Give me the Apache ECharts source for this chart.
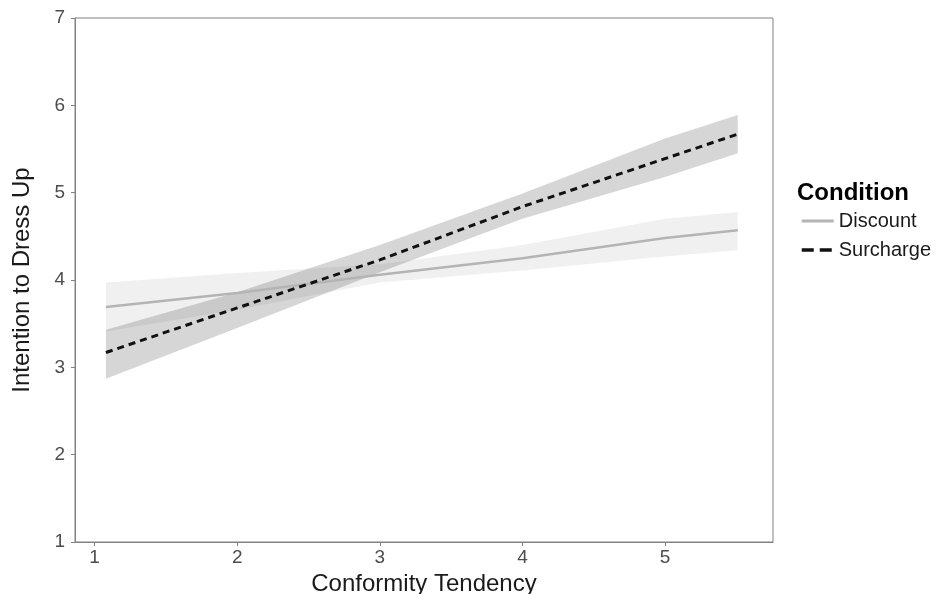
<!DOCTYPE html>
<html><head><meta charset="utf-8">
<script src="https://cdn.jsdelivr.net/npm/echarts@6/dist/echarts.min.js"></script>
<style>html,body{margin:0;padding:0;background:#fff}#c{width:936px;height:594px}</style>
</head><body><div id="c"></div>
<script>
var xs = [1.08, 2, 3, 4, 5, 5.51];
var discountFit = [3.69, 3.85, 4.06, 4.25, 4.48, 4.57];
var discountLow = [3.41, 3.66, 3.97, 4.11, 4.27, 4.34];
var discountHigh = [3.97, 4.08, 4.18, 4.40, 4.70, 4.78];
var surchargeFit = [3.17, 3.68, 4.23, 4.84, 5.39, 5.67];
var surchargeLow = [2.87, 3.45, 4.09, 4.70, 5.18, 5.45];
var surchargeHigh = [3.43, 3.86, 4.40, 4.99, 5.62, 5.89];
var xTicks = [1, 2, 3, 4, 5];

function pairs(a){ return xs.map(function(x,i){ return [x, a[i]]; }); }
function band(low, high, color){
  return {
    type: 'custom', silent: true, z: 1,
    data: [[0]],
    renderItem: function(params, api){
      var pts = [];
      for (var i=0;i<xs.length;i++) pts.push(api.coord([xs[i], high[i]]));
      for (var j=xs.length-1;j>=0;j--) pts.push(api.coord([xs[j], low[j]]));
      return { type: 'polygon', shape: { points: pts }, style: { fill: color } };
    }
  };
}
var font = 'Liberation Sans, Arial, sans-serif';
var chart = echarts.init(document.getElementById('c'));
chart.setOption({
  animation: false,
  grid: { left: 75, right: 163, top: 18, bottom: 52, containLabel: false, outerBoundsMode: 'none',
          show: true, borderColor: '#828282', borderWidth: 1 },
  xAxis: {
    type: 'value', min: 0.863, max: 5.757,
    name: 'Conformity Tendency', nameLocation: 'middle', nameGap: 22,
    nameTextStyle: { fontFamily: font, fontSize: 24, color: '#1a1a1a' },
    axisLine: { show: true, lineStyle: { color: '#828282' } },
    axisTick: { show: true, length: 4, lineStyle: { color: '#828282' }, customValues: xTicks },
    axisLabel: { fontFamily: font, fontSize: 19, color: '#4d4d4d', margin: 6, customValues: xTicks },
    splitLine: { show: false }
  },
  yAxis: {
    type: 'value', min: 1, max: 7, interval: 1,
    name: 'Intention to Dress Up', nameLocation: 'middle', nameGap: 41,
    nameTextStyle: { fontFamily: font, fontSize: 24, color: '#1a1a1a' },
    axisLine: { show: true, lineStyle: { color: '#828282' } },
    axisTick: { show: true, length: 4, lineStyle: { color: '#828282' } },
    axisLabel: { fontFamily: font, fontSize: 19, color: '#4d4d4d', margin: 10 },
    splitLine: { show: false }
  },
  legend: {
    orient: 'vertical', left: 795, top: 206, itemGap: 9, itemWidth: 32, itemHeight: 14,
    textStyle: { fontFamily: font, fontSize: 20, color: '#1a1a1a' },
    itemStyle: { opacity: 0 },
    data: [
      { name: 'Discount', lineStyle: { width: 3, color: '#b4b4b4' } },
      { name: 'Surcharge', lineStyle: { width: 3.5, color: '#111', type: [12, 6] } }
    ]
  },
  graphic: [{ type: 'text', left: 797, top: 181, style: { text: 'Condition', font: 'bold 24px ' + font, fill: '#000' } }],
  series: [
    band(discountLow, discountHigh, 'rgba(0,0,0,0.06)'),
    band(surchargeLow, surchargeHigh, 'rgba(0,0,0,0.16)'),
    { name: 'Discount', type: 'line', data: pairs(discountFit), symbol: 'none', z: 3,
      lineStyle: { color: '#b4b4b4', width: 2.5 }, itemStyle: { color: '#b4b4b4' } },
    { name: 'Surcharge', type: 'line', data: pairs(surchargeFit), symbol: 'none', z: 4,
      lineStyle: { color: '#111', width: 3, type: [7, 5] }, itemStyle: { color: '#111' } }
  ]
});
</script></body></html>
